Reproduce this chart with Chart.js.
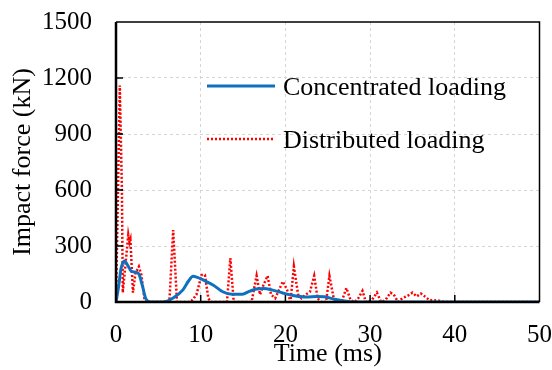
<!DOCTYPE html>
<html>
<head>
<meta charset="utf-8">
<script src="https://cdn.jsdelivr.net/npm/chart.js@4.4.1/dist/chart.umd.min.js"></script>
<style>
  body { margin: 0; background: #fff; }
  #wrap { width: 552px; height: 370px; }
</style>
</head>
<body>
<div id="wrap"><canvas id="chart" width="552" height="370"></canvas></div>
<script>
// series labels
let seriesNames = ['Concentrated loading', 'Distributed loading'];

// concentrated loading (ms, kN)
let concTime  = [0, 0.3, 0.6, 1.0, 1.4, 1.8, 2.3, 2.7, 3.1, 3.5, 3.9, 4.5, 5.5, 6.7, 7.9, 8.6, 9.1, 9.6, 10.3, 11.5, 12.6, 13.7, 14.9, 15.8, 16.6, 17.4, 18.4, 19.7, 20.9, 22.5, 23.7, 24.6, 25.8, 27.0, 28.0, 50];
let concForce = [0, 80, 180, 220, 195, 165, 160, 150, 90, 20, 2, 0, 0, 20, 65, 115, 138, 132, 118, 90, 55, 42, 42, 58, 70, 72, 65, 48, 35, 27, 30, 28, 15, 5, 0, 0];

// distributed loading (ms, kN)
let distTime  = [0, 0.2, 0.45, 0.7, 0.8, 1.2, 1.45, 1.6, 1.7, 2.0, 2.3, 2.7, 3.0, 3.4,
                 6.3, 6.75, 7.2, 8.8, 9.1, 9.5, 10.1, 10.5, 10.9, 11.2, 13.1, 13.5, 13.9,
                 16.0, 16.6, 17.0, 17.4, 17.9, 18.3, 18.8, 19.2, 19.7, 20.2, 20.6, 21.0, 21.5, 21.9, 22.4, 22.9, 23.4, 23.8, 24.2,
                 24.8, 25.2, 25.7, 26.2, 26.7, 27.2, 27.7, 28.2, 28.6, 29.1, 29.5, 30.2, 30.8, 31.3, 31.8, 32.4, 32.8, 33.3,
                 33.8, 34.5, 35.0, 35.5, 36.0, 36.6, 37.0, 38.0, 38.8, 50];
let distForce = [0, 500, 1160, 600, 50, 240, 360, 320, 335, 50, 155, 190, 145, 0,
                 0, 385, 0, 0, 15, 40, 145, 145, 20, 0, 0, 235, 0,
                 0, 140, 40, 90, 140, 40, 20, 60, 110, 65, 0, 190, 40, 20, 40, 55, 140, 20, 0,
                 0, 140, 20, 0, 10, 75, 10, 0, 20, 60, 0, 10, 50, 0, 10, 50, 40, 0,
                 20, 35, 50, 30, 45, 25, 10, 8, 0, 0];

// axis ticks
let xTicks = [0, 10, 20, 30, 40, 50];
let yTicks = [0, 300, 600, 900, 1200, 1500];

let serif = "'Liberation Serif', 'Times New Roman', serif";

let toPoints = function(xs, ys) {
    let pts = [];
    for (let i = 0; i < xs.length; i++) pts.push({x: xs[i], y: ys[i]});
    return pts;
};

// box, inward ticks and in-plot legend
let framePlugin = {
    id: 'frame',
    afterDraw: function(chart) {
        let ctx = chart.ctx;
        let a = chart.chartArea;
        let xs = chart.scales.x, ys = chart.scales.y;
        ctx.save();
        ctx.strokeStyle = '#000';

        // inward tick marks
        ctx.lineWidth = 1.5;
        ctx.beginPath();
        xTicks.slice(1, -1).forEach(function(v) {
            let px = xs.getPixelForValue(v);
            ctx.moveTo(px, a.bottom); ctx.lineTo(px, a.bottom - 7);
        });
        yTicks.slice(1, -1).forEach(function(v) {
            let py = ys.getPixelForValue(v);
            ctx.moveTo(a.left, py); ctx.lineTo(a.left + 7, py);
        });
        ctx.stroke();

        // top / right
        ctx.lineWidth = 1.5;
        ctx.beginPath();
        ctx.moveTo(a.left, a.top); ctx.lineTo(a.right, a.top); ctx.lineTo(a.right, a.bottom);
        ctx.stroke();
        // left / bottom
        ctx.lineWidth = 2.5;
        ctx.beginPath();
        ctx.moveTo(a.left, a.top); ctx.lineTo(a.left, a.bottom); ctx.lineTo(a.right, a.bottom);
        ctx.stroke();

        // legend
        let lx = a.left + 91;
        let rows = [a.top + 64, a.top + 117];
        ctx.font = '26px ' + serif;
        ctx.fillStyle = '#000';
        ctx.textBaseline = 'alphabetic';
        chart.data.datasets.forEach(function(ds, i) {
            let ly = rows[i];
            ctx.strokeStyle = ds.borderColor;
            ctx.lineWidth = ds.borderWidth;
            ctx.setLineDash(ds.borderDash || []);
            ctx.beginPath();
            ctx.moveTo(lx, ly); ctx.lineTo(lx + 68, ly);
            ctx.stroke();
            ctx.setLineDash([]);
            ctx.fillText(ds.label, lx + 76, ly + 9);
        });
        ctx.restore();
    }
};

let edgeGrid = function(max) {
    return function(c) {
        if (c.tick && (c.tick.value === 0 || c.tick.value === max)) return 'rgba(0,0,0,0)';
        return '#d4d4d4';
    };
};

let plainLabel = function(v) { return String(v); };

new Chart(document.getElementById('chart'), {
    type: 'line',
    data: {
        datasets: [{
            label: seriesNames[0],
            data: toPoints(concTime, concForce),
            borderColor: '#0f71bd',
            borderWidth: 3,
            pointRadius: 0,
            fill: false,
            tension: 0.4,
            cubicInterpolationMode: 'monotone'
        }, {
            label: seriesNames[1],
            data: toPoints(distTime, distForce),
            borderColor: '#ff0000',
            borderWidth: 2.5,
            borderDash: [2, 2],
            pointRadius: 0,
            fill: false,
            tension: 0
        }]
    },
    options: {
        responsive: false,
        animation: false,
        layout: { padding: { top: 22, right: 12, left: 0, bottom: 0 } },
        plugins: { legend: { display: false }, tooltip: { enabled: false } },
        scales: {
            x: {
                type: 'linear',
                min: 0, max: 50,
                afterBuildTicks: function(s) { s.ticks = xTicks.map(function(v) { return {value: v}; }); },
                afterFit: function(s) { s.height = 68; },
                grid: { color: edgeGrid(50), drawTicks: true, tickLength: 18, tickColor: 'rgba(0,0,0,0)' },
                border: { display: false, dash: [3, 3] },
                ticks: { color: '#000', padding: 0, maxRotation: 0, callback: plainLabel, font: { family: serif, size: 25 } },
                title: { display: true, text: 'Time (ms)', color: '#000', padding: { top: -9, bottom: 0 }, font: { family: serif, size: 26 } }
            },
            y: {
                min: 0, max: 1500,
                afterBuildTicks: function(s) { s.ticks = yTicks.map(function(v) { return {value: v}; }); },
                afterFit: function(s) { s.width = 116; },
                grid: { color: edgeGrid(1500), drawTicks: true, tickLength: 24, tickColor: 'rgba(0,0,0,0)' },
                border: { display: false, dash: [3, 3] },
                ticks: { color: '#000', padding: 0, callback: plainLabel, font: { family: serif, size: 25 } },
                title: { display: true, text: 'Impact force (kN)', color: '#000', padding: { top: 8 }, font: { family: serif, size: 26 } }
            }
        }
    },
    plugins: [framePlugin]
});
</script>
</body>
</html>
